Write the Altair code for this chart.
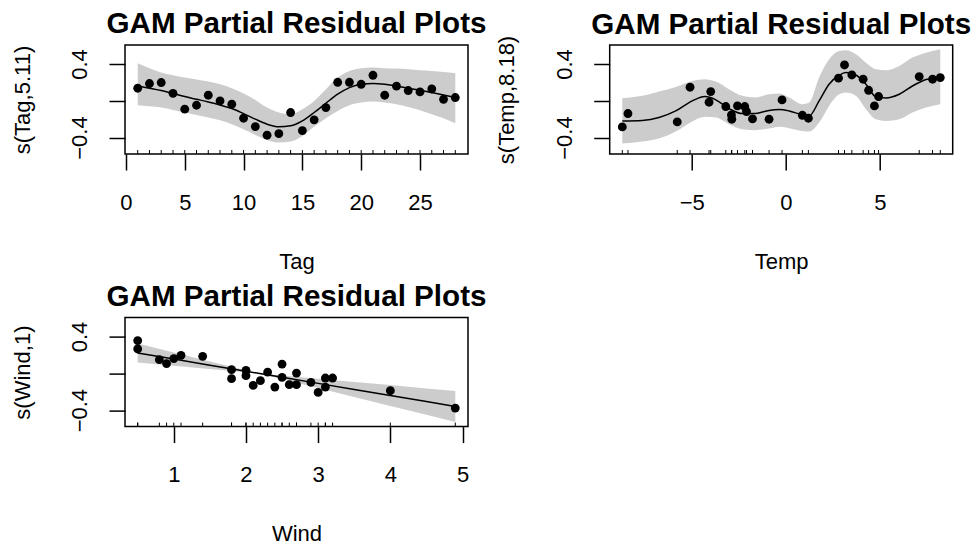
import altair as alt
import pandas as pd

FONT = "Liberation Sans"
TITLE = "GAM Partial Residual Plots"
Y_DOMAIN = [-0.579, 0.606]
Y_TICKS = [-0.4, -0.2, 0.0, 0.2, 0.4]

# ---------------- Panel 1: Tag ----------------
tag_x = list(range(1, 29))
tag_resid = [0.136, 0.187, 0.198, 0.081, -0.092, -0.049, 0.060, -0.002, -0.038, -0.190,
             -0.281, -0.375, -0.357, -0.128, -0.324, -0.208, -0.074, 0.201, 0.201, 0.179,
             0.277, 0.060, 0.158, 0.111, 0.096, 0.128, 0.016, 0.035]
tag_fit = [0.161, 0.136, 0.111, 0.078, 0.045, 0.016, -0.013, -0.046, -0.085, -0.140,
           -0.200, -0.255, -0.284, -0.273, -0.219, -0.128, -0.027, 0.071, 0.143, 0.179,
           0.187, 0.179, 0.161, 0.136, 0.114, 0.089, 0.063, 0.035]
tag_upper = [0.408, 0.353, 0.306, 0.277, 0.252, 0.230, 0.208, 0.179, 0.136, 0.078,
             0.009, -0.074, -0.128, -0.147, -0.092, -0.002, 0.125, 0.252, 0.324, 0.353,
             0.361, 0.353, 0.350, 0.342, 0.331, 0.324, 0.313, 0.299]
tag_lower = [-0.049, -0.060, -0.074, -0.100, -0.128, -0.154, -0.183, -0.212, -0.255, -0.310,
             -0.372, -0.426, -0.455, -0.443, -0.382, -0.284, -0.190, -0.111, -0.049, -0.020,
             -0.009, -0.020, -0.038, -0.067, -0.103, -0.147, -0.190, -0.245]

# ---------------- Panel 2: Temp ----------------
temp_x = [-8.69, -8.39, -5.77, -5.09, -3.99, -4.08, -3.19, -2.89, -2.87, -2.57,
          -2.18, -2.09, -1.77, -0.89, -0.20, 0.88, 1.20, 2.80, 3.12, 3.51,
          4.11, 4.40, 4.71, 4.93, 7.09, 7.80, 8.21]
temp_resid = [-0.285, -0.139, -0.230, 0.147, 0.100, -0.016, -0.063, -0.154, -0.201, -0.056,
              -0.063, -0.118, -0.198, -0.201, 0.009, -0.158, -0.190, 0.245, 0.389, 0.280,
              0.234, 0.114, -0.056, 0.046, 0.263, 0.234, 0.252]
temp_grid = [-8.69, -7.63, -6.74, -5.85, -4.97, -4.30, -3.72, -3.02, -2.31, -1.60,
             -0.89, -0.36, 0.18, 0.88, 1.24, 1.77, 2.30, 2.84, 3.19, 3.72,
             4.26, 4.79, 5.32, 6.03, 6.73, 7.45, 8.21]
temp_fit = [-0.220, -0.214, -0.183, -0.111, -0.002, 0.045, 0.010, -0.085, -0.140, -0.138,
            -0.105, -0.095, -0.111, -0.154, -0.165, -0.002, 0.179, 0.277, 0.306, 0.280,
            0.179, 0.042, 0.030, 0.070, 0.160, 0.230, 0.259]
temp_upper = [0.027, 0.053, 0.100, 0.150, 0.215, 0.234, 0.208, 0.125, 0.053, 0.035,
              0.071, 0.078, 0.035, -0.038, -0.020, 0.252, 0.451, 0.541, 0.548, 0.505,
              0.414, 0.342, 0.331, 0.378, 0.469, 0.523, 0.559]
temp_lower = [-0.465, -0.443, -0.410, -0.335, -0.226, -0.175, -0.183, -0.255, -0.310, -0.320,
              -0.302, -0.284, -0.298, -0.328, -0.335, -0.237, -0.056, 0.071, 0.089, 0.053,
              -0.092, -0.201, -0.219, -0.201, -0.128, -0.074, -0.038]

# ---------------- Panel 3: Wind ----------------
wind_x = [0.5, 0.5, 0.8, 0.9, 1.0, 1.1, 1.4, 1.8, 1.8, 2.0,
          2.0, 2.1, 2.2, 2.3, 2.4, 2.5, 2.5, 2.6, 2.7, 2.7,
          2.9, 3.0, 3.1, 3.1, 3.2, 4.0, 4.9]
wind_resid = [0.356, 0.265, 0.149, 0.106, 0.160, 0.196, 0.185, 0.040, -0.058, 0.033,
              -0.025, -0.131, -0.080, 0.014, -0.149, 0.101, -0.044, -0.123, 0.003, -0.123,
              -0.098, -0.207, -0.051, -0.149, -0.051, -0.189, -0.378]
wind_grid = [0.5, 1.0, 1.5, 2.0, 2.17, 2.5, 3.0, 3.5, 4.0, 4.5, 4.9]
wind_fit = [0.221, 0.155, 0.089, 0.023, 0.0, -0.043, -0.109, -0.175, -0.241, -0.307, -0.360]
wind_upper = [0.324, 0.227, 0.130, 0.033, 0.0, -0.023, -0.058, -0.093, -0.128, -0.164, -0.192]
wind_lower = [0.118, 0.083, 0.048, 0.013, 0.0, -0.063, -0.160, -0.257, -0.354, -0.450, -0.528]

W, H = 343, 109


def panel(xs, resid, grid, fit, upper, lower, xdomain, xticks, xtitle, ytitle, interp, title_dy):
    pts = pd.DataFrame({"x": xs, "y": resid})
    band = pd.DataFrame({"x": grid, "fit": fit, "upper": upper, "lower": lower})
    xscale = alt.Scale(domain=xdomain, nice=False, zero=False)
    yscale = alt.Scale(domain=Y_DOMAIN, nice=False, zero=False)
    xaxis = alt.Axis(values=xticks, title=xtitle, format="d", labelBaseline="alphabetic",
                     labelAlign="center", labelPadding=39, titleBaseline="alphabetic",
                     titleY=114.3, titleX=W / 2, titleAlign="center", labelOverlap=False)
    yaxis = alt.Axis(values=Y_TICKS, title=ytitle, format=".1f",
                     labelExpr="abs(datum.value) > 0.3 ? datum.label : ''",
                     labelAngle=-90, labelAlign="center", labelBaseline="alphabetic",
                     labelPadding=22.7, labelOverlap=False, titleAngle=270,
                     titleBaseline="alphabetic", titleX=-96, titleY=H / 2, titleAlign="center")
    area = alt.Chart(band).mark_area(color="#cccccc", opacity=1, interpolate=interp).encode(
        x=alt.X("x:Q", scale=xscale, axis=xaxis),
        y=alt.Y("upper:Q", scale=yscale, axis=yaxis),
        y2="lower:Q",
    )
    line = alt.Chart(band).mark_line(color="black", strokeWidth=1.5, interpolate=interp).encode(
        x="x:Q", y="fit:Q"
    )
    dots = alt.Chart(pts).mark_circle(color="black", opacity=1, size=78).encode(
        x="x:Q", y="y:Q"
    )
    rug = alt.Chart(pts).mark_rule(color="black", strokeWidth=1).encode(
        x="x:Q", y=alt.value(H), y2=alt.value(H - 4)
    )
    return alt.layer(area, line, dots, rug).properties(
        width=W, height=H,
        title=alt.Title(TITLE, fontSize=29.6, fontWeight="bold", font=FONT, color="black",
                        anchor="middle", baseline="alphabetic", offset=12, dy=title_dy),
    )


p1 = panel(tag_x, tag_resid, tag_x, tag_fit, tag_upper, tag_lower, [-0.08, 29.08],
           [0, 5, 10, 15, 20, 25], "Tag", "s(Tag,5.11)", "monotone", 29.6)
p2 = panel(temp_x, temp_resid, temp_grid, temp_fit, temp_upper, temp_lower, [-9.36, 8.87],
           [-5, 0, 5], "Temp", "s(Temp,8.18)", "monotone", 40.6)
p3 = panel(wind_x, wind_resid, wind_grid, wind_fit, wind_upper, wind_lower, [0.324, 5.076],
           [1, 2, 3, 4, 5], "Wind", "s(Wind,1)", "linear", 29.6)

chart = alt.concat(p1, p2, p3, columns=2, spacing={"row": 163.6, "column": 141.7},
                   bounds="flush").properties(
    padding={"left": 10, "top": 8, "right": 0, "bottom": 0},
    background="white",
).configure_view(stroke="black", strokeWidth=1.5).configure_axis(
    domain=False, grid=False, tickColor="black", tickSize=16, tickWidth=1.5,
    labelFont=FONT, labelFontSize=22, labelColor="black",
    titleFont=FONT, titleFontSize=22, titleFontWeight="normal", titleColor="black",
)

chart.save("out.html", embed_options={"renderer": "svg", "actions": False})
